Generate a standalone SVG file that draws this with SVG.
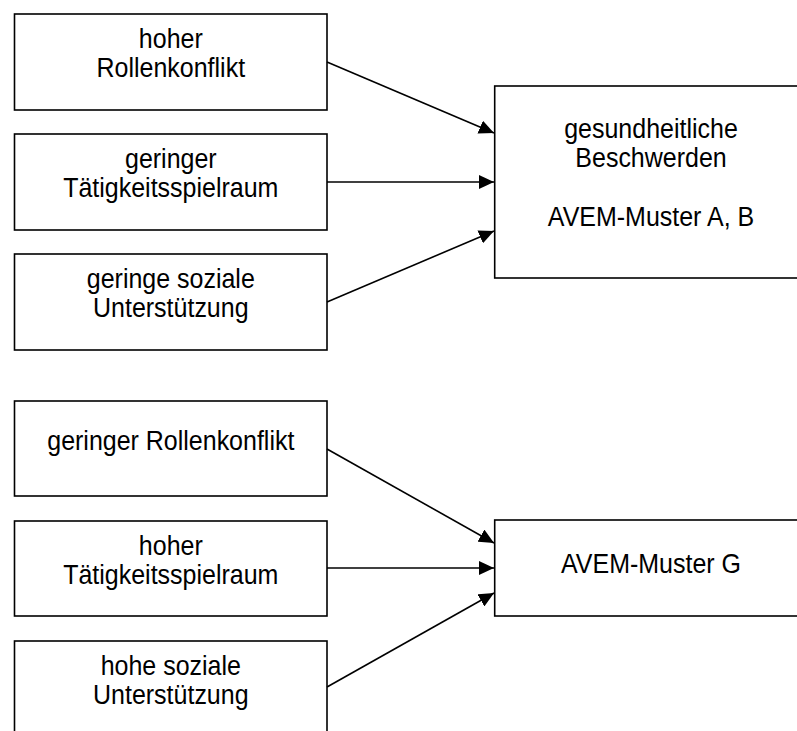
<svg xmlns="http://www.w3.org/2000/svg" width="797" height="731" viewBox="0 0 797 731">
  <style>
    .box { fill: #ffffff; stroke: #000000; stroke-width: 1.6; }
    .lbl { font-family: "Liberation Sans", Arial, sans-serif; font-size: 25px; fill: #000000; text-anchor: middle; }
    .edge { stroke: #000000; stroke-width: 1.6; fill: none; marker-end: url(#arrow); }
  </style>
  <defs>
    <marker id="arrow" markerUnits="userSpaceOnUse" markerWidth="15" markerHeight="14" refX="15" refY="7" orient="auto">
      <path d="M0,0 L15,7 L0,14 Z" fill="#000000"/>
    </marker>
  </defs>
  <rect width="797" height="731" fill="#ffffff"/>

  <!-- upper group: stress factors (labels slightly tall: scale(1,1.09)) -->
  <g id="hoher-rollenkonflikt">
    <rect class="box" x="14.5" y="14" width="312.5" height="96"/>
    <text class="lbl" transform="translate(170.8,48) scale(1,1.09)">hoher</text>
    <text class="lbl" transform="translate(170.8,77.3) scale(1,1.09)">Rollenkonflikt</text>
  </g>
  <g id="geringer-taetigkeitsspielraum">
    <rect class="box" x="14.5" y="134" width="312.5" height="96"/>
    <text class="lbl" transform="translate(170.8,168) scale(1,1.09)">geringer</text>
    <text class="lbl" transform="translate(170.8,197.3) scale(1,1.09)">Tätigkeitsspielraum</text>
  </g>
  <g id="geringe-soziale-unterstuetzung">
    <rect class="box" x="14.5" y="254" width="312.5" height="96"/>
    <text class="lbl" transform="translate(170.8,288) scale(1,1.09)">geringe soziale</text>
    <text class="lbl" transform="translate(170.8,317) scale(1,1.09)">Unterstützung</text>
  </g>
  <g id="gesundheitliche-beschwerden">
    <rect class="box" x="494.7" y="86" width="312.5" height="192"/>
    <text class="lbl" transform="translate(651,138) scale(1,1.09)">gesundheitliche</text>
    <text class="lbl" transform="translate(651,167) scale(1,1.09)">Beschwerden</text>
    <text class="lbl" transform="translate(651,225.5) scale(1,1.09)">AVEM-Muster A, B</text>
  </g>

  <!-- lower group: resources -->
  <g id="geringer-rollenkonflikt">
    <rect class="box" x="14.5" y="401" width="312.5" height="95"/>
    <text class="lbl" transform="translate(170.8,450) scale(1,1.09)">geringer Rollenkonflikt</text>
  </g>
  <g id="hoher-taetigkeitsspielraum">
    <rect class="box" x="14.5" y="521" width="312.5" height="95"/>
    <text class="lbl" transform="translate(170.8,555) scale(1,1.09)">hoher</text>
    <text class="lbl" transform="translate(170.8,583.5) scale(1,1.09)">Tätigkeitsspielraum</text>
  </g>
  <g id="hohe-soziale-unterstuetzung">
    <rect class="box" x="14.5" y="641" width="312.5" height="96"/>
    <text class="lbl" transform="translate(170.8,675) scale(1,1.09)">hohe soziale</text>
    <text class="lbl" transform="translate(170.8,704) scale(1,1.09)">Unterstützung</text>
  </g>
  <g id="avem-muster-g">
    <rect class="box" x="494.7" y="520" width="312.5" height="96"/>
    <text class="lbl" transform="translate(651,573) scale(1,1.09)">AVEM-Muster G</text>
  </g>

  <!-- connectors -->
  <g id="connectors">
    <line class="edge" x1="327" y1="62" x2="494" y2="133"/>
    <line class="edge" x1="327" y1="182" x2="494" y2="182"/>
    <line class="edge" x1="327" y1="302" x2="494" y2="231"/>
    <line class="edge" x1="327" y1="449" x2="494" y2="543"/>
    <line class="edge" x1="327" y1="568" x2="494" y2="568"/>
    <line class="edge" x1="327" y1="687" x2="494" y2="593"/>
  </g>
</svg>
